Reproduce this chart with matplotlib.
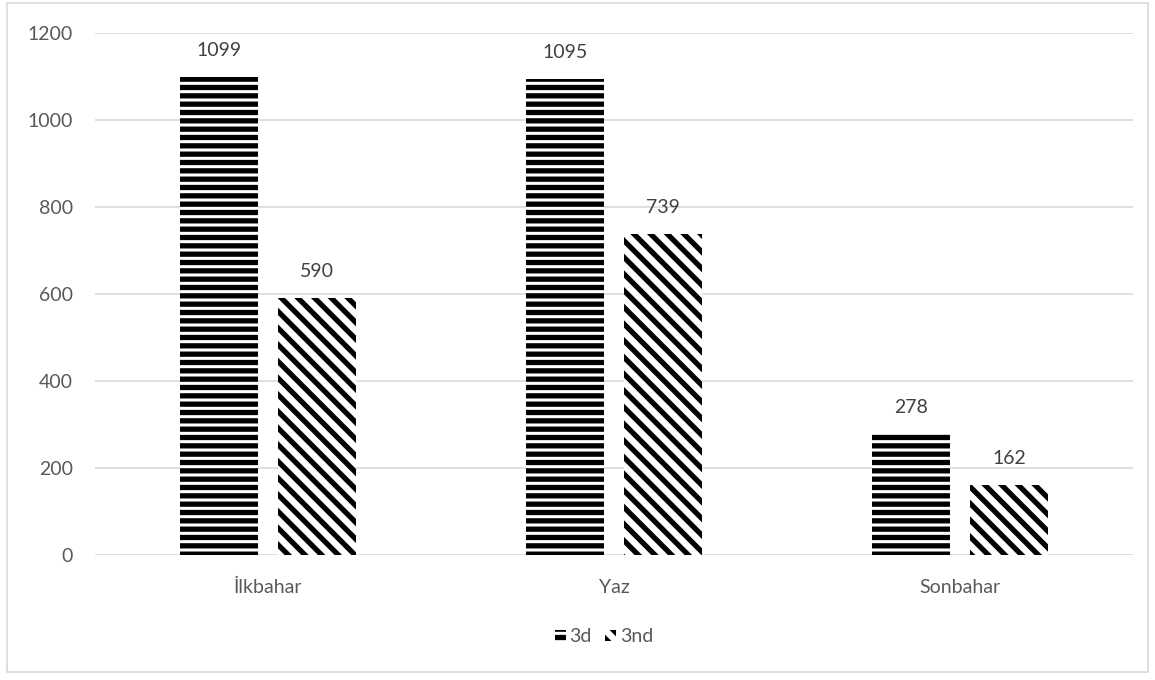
import matplotlib
matplotlib.use("Agg")
import matplotlib.pyplot as plt
import numpy as np
from matplotlib.patches import Rectangle

categories = ["İlkbahar", "Yaz", "Sonbahar"]
series_names = ["3d", "3nd"]
values_3d = [1099, 1095, 278]
values_3nd = [590, 739, 162]
y_ticks = [0, 200, 400, 600, 800, 1000, 1200]

plt.rcParams["font.family"] = ["Lato", "DejaVu Sans"]
plt.rcParams["hatch.linewidth"] = 3.8

fig = plt.figure(figsize=(11.55, 6.8), dpi=100)
ax = fig.add_axes([95 / 1155, 125 / 680, 1038 / 1155, 522 / 680])

# outer chart frame
fig.patches.append(Rectangle((7 / 1155, 8 / 680), 1141 / 1155, 669 / 680,
                             transform=fig.transFigure, fill=False,
                             edgecolor="#d9d9d9", linewidth=1.2))

x = np.arange(len(categories))
width = 0.225
offset = 0.1415
text_color = "#595959"
fs = 14

bars_a = ax.bar(x - offset, values_3d, width, facecolor="white",
                edgecolor="black", linewidth=0, hatch="--", label=series_names[0],
                zorder=3)
bars_b = ax.bar(x + offset, values_3nd, width, facecolor="white",
                edgecolor="black", linewidth=0, hatch="\\\\", label=series_names[1],
                zorder=3)

for bars, vals in ((bars_a, values_3d), (bars_b, values_3nd)):
    for b, v in zip(bars, vals):
        ax.annotate(f"{v}", (b.get_x() + b.get_width() / 2, v),
                    xytext=(0, 19), textcoords="offset points",
                    ha="center", va="center", fontsize=fs, color="#404040")

ax.set_xlim(-0.5, len(categories) - 0.5)
ax.set_ylim(0, 1200)
ax.set_yticks(y_ticks)
ax.set_xticks(x)
ax.set_xticklabels(categories)
ax.tick_params(axis="both", length=0, labelsize=fs, labelcolor=text_color)
ax.tick_params(axis="y", pad=16)
ax.tick_params(axis="x", pad=17)
ax.grid(axis="y", color="#d9d9d9", linewidth=1.2, zorder=0)
for s in ax.spines.values():
    s.set_visible(False)

leg = fig.legend(loc="center", bbox_to_anchor=(0.523, 1 - 637 / 680), ncol=2,
                 frameon=False, fontsize=fs, handlelength=0.55,
                 handleheight=0.55, handletextpad=0.2, columnspacing=0.7)
for t in leg.get_texts():
    t.set_color(text_color)

fig.savefig("out.png", dpi=100)
